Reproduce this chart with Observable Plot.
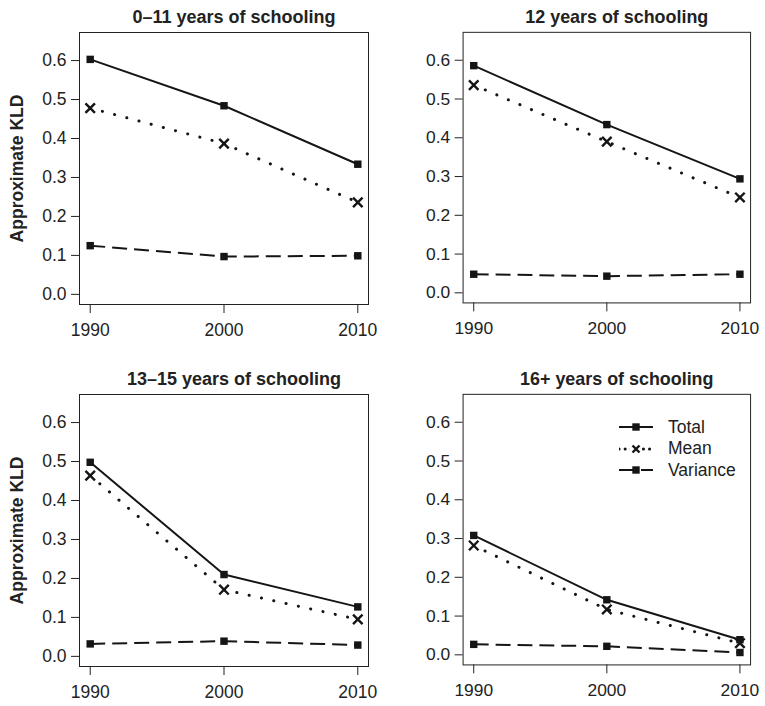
<!DOCTYPE html>
<html>
<head>
<meta charset="utf-8">
<script src="https://cdn.jsdelivr.net/npm/d3@7"></script>
<script src="https://cdn.jsdelivr.net/npm/@observablehq/plot@0.6"></script>
<style>
  html, body { margin: 0; padding: 0; background: #fff; }
  #chart { position: relative; width: 765px; height: 706px; font-family: "Liberation Sans", Arial, Helvetica, sans-serif; color: #222; }
  .panel { position: absolute; }
  .legend { position: absolute; font-size: 17.5px; }
  .legend .row { position: absolute; display: flex; align-items: center; white-space: nowrap; }
  .legend svg { display: block; }
</style>
</head>
<body>
<div id="chart"></div>
<script>
// ---- data ----
const years = [1990, 2000, 2010];
const panelTitles = ["0–11 years of schooling", "12 years of schooling", "13–15 years of schooling", "16+ years of schooling"];
const seriesNames = ["Total", "Mean", "Variance"];
const totalValues = [
  [0.603, 0.484, 0.334],
  [0.586, 0.434, 0.294],
  [0.498, 0.210, 0.127],
  [0.308, 0.142, 0.039]
];
const meanValues = [
  [0.478, 0.387, 0.236],
  [0.536, 0.390, 0.246],
  [0.464, 0.171, 0.095],
  [0.282, 0.117, 0.030]
];
const varianceValues = [
  [0.125, 0.097, 0.099],
  [0.048, 0.043, 0.048],
  [0.032, 0.039, 0.029],
  [0.027, 0.022, 0.006]
];
const yTicks = [0, 0.1, 0.2, 0.3, 0.4, 0.5, 0.6];
const xTicks = [1990, 2000, 2010];
const yLabel = "Approximate KLD";

// ---- styles ----
const ink = "#151515";
const styles = {
  Total:    {dash: null,     width: 2,   symbol: "square"},
  Mean:     {dash: "0.1,12.5", width: 3, symbol: "times"},
  Variance: {dash: "15,7",   width: 2,   symbol: "square"}
};
const font = '"Liberation Sans", Arial, Helvetica, sans-serif';

const chart = document.getElementById("chart");
const W = 383, H = 353;
const positions = [[0, 0], [384, 0], [0, 362], [384, 362]];

panelTitles.forEach((title, i) => {
  const valuesBySeries = {Total: totalValues[i], Mean: meanValues[i], Variance: varianceValues[i]};
  const rows = [];
  seriesNames.forEach(s => years.forEach((yr, j) => rows.push({series: s, year: yr, value: valuesBySeries[s][j]})));

  const marks = [Plot.frame({stroke: "#222", strokeWidth: 1})];
  seriesNames.forEach(s => {
    const st = styles[s];
    const d = rows.filter(r => r.series === s);
    marks.push(Plot.line(d, {x: "year", y: "value", stroke: ink, strokeWidth: st.width,
      strokeDasharray: st.dash, strokeLinecap: s === "Mean" ? "round" : "butt"}));
  });
  seriesNames.forEach(s => {
    const st = styles[s];
    const d = rows.filter(r => r.series === s);
    if (st.symbol === "square") {
      marks.push(Plot.dot(d, {x: "year", y: "value", symbol: "square", r: 4.2, fill: ink, stroke: "none"}));
    } else {
      marks.push(Plot.dot(d, {x: "year", y: "value", symbol: "times", r: 4.4, stroke: ink, strokeWidth: 2.4, fill: "none"}));
    }
  });
  marks.push(Plot.axisY({ticks: yTicks, tickFormat: d3.format(".1f"), tickSize: 8, tickPadding: 5, label: null, fontSize: 17.5, fill: "#222"}));
  marks.push(Plot.axisX({ticks: xTicks, tickFormat: d => String(d), tickSize: 9, tickPadding: 10, label: null, fontSize: 17.5, fill: "#222"}));
  marks.push(Plot.text([title], {frameAnchor: "top", lineAnchor: "middle", dy: -15, dx: 10, text: d => d, fontWeight: "bold", fontSize: 18, fill: "#222"}));
  if (i % 2 === 0) {
    marks.push(Plot.text([yLabel], {frameAnchor: "left", textAnchor: "middle", lineAnchor: "middle", dx: -62, rotate: -90, text: d => d, fontWeight: "bold", fontSize: 17.5, fill: "#222"}));
  }

  const svg = Plot.plot({
    width: W, height: H,
    marginLeft: 79, marginRight: 15, marginTop: 32, marginBottom: 49,
    x: {domain: [1989.2, 2010.8], axis: null},
    y: {domain: [-0.026, 0.672], axis: null},
    style: {fontFamily: font, background: "white", color: "#222"},
    marks
  });
  const div = document.createElement("div");
  div.className = "panel";
  div.style.left = positions[i][0] + "px";
  div.style.top = positions[i][1] + "px";
  div.appendChild(svg);
  chart.appendChild(div);
});

// ---- legend (panel 4, top right) ----
const legend = document.createElement("div");
legend.className = "legend";
legend.style.left = "619px";
legend.style.top = "416px";
seriesNames.forEach((s, k) => {
  const st = styles[s];
  const row = document.createElement("div");
  row.className = "row";
  row.style.top = (k * 21.5) + "px";
  row.style.left = "0px";
  const ns = "http://www.w3.org/2000/svg";
  const sv = document.createElementNS(ns, "svg");
  sv.setAttribute("width", 34); sv.setAttribute("height", 22);
  const ln = document.createElementNS(ns, "line");
  ln.setAttribute("x1", 0); ln.setAttribute("x2", 34); ln.setAttribute("y1", 11); ln.setAttribute("y2", 11);
  ln.setAttribute("stroke", ink); ln.setAttribute("stroke-width", st.width);
  if (st.dash) ln.setAttribute("stroke-dasharray", s === "Mean" ? "0.1,6" : st.dash);
  if (s === "Mean") ln.setAttribute("stroke-linecap", "round");
  sv.appendChild(ln);
  if (st.symbol === "square") {
    const r = document.createElementNS(ns, "rect");
    r.setAttribute("x", 13.3); r.setAttribute("y", 7.3); r.setAttribute("width", 7.4); r.setAttribute("height", 7.4);
    r.setAttribute("fill", ink);
    sv.appendChild(r);
  } else {
    const bg = document.createElementNS(ns, "rect");
    bg.setAttribute("x", 11); bg.setAttribute("y", 5); bg.setAttribute("width", 12); bg.setAttribute("height", 12); bg.setAttribute("fill", "white");
    sv.appendChild(bg);
    const p = document.createElementNS(ns, "path");
    p.setAttribute("d", "M13.5,7.5L20.5,14.5M20.5,7.5L13.5,14.5");
    p.setAttribute("stroke", ink); p.setAttribute("stroke-width", 2.4);
    sv.appendChild(p);
  }
  row.appendChild(sv);
  const t = document.createElement("span");
  t.textContent = s;
  t.style.marginLeft = "15px";
  row.appendChild(t);
  legend.appendChild(row);
});
chart.appendChild(legend);
</script>
</body>
</html>
